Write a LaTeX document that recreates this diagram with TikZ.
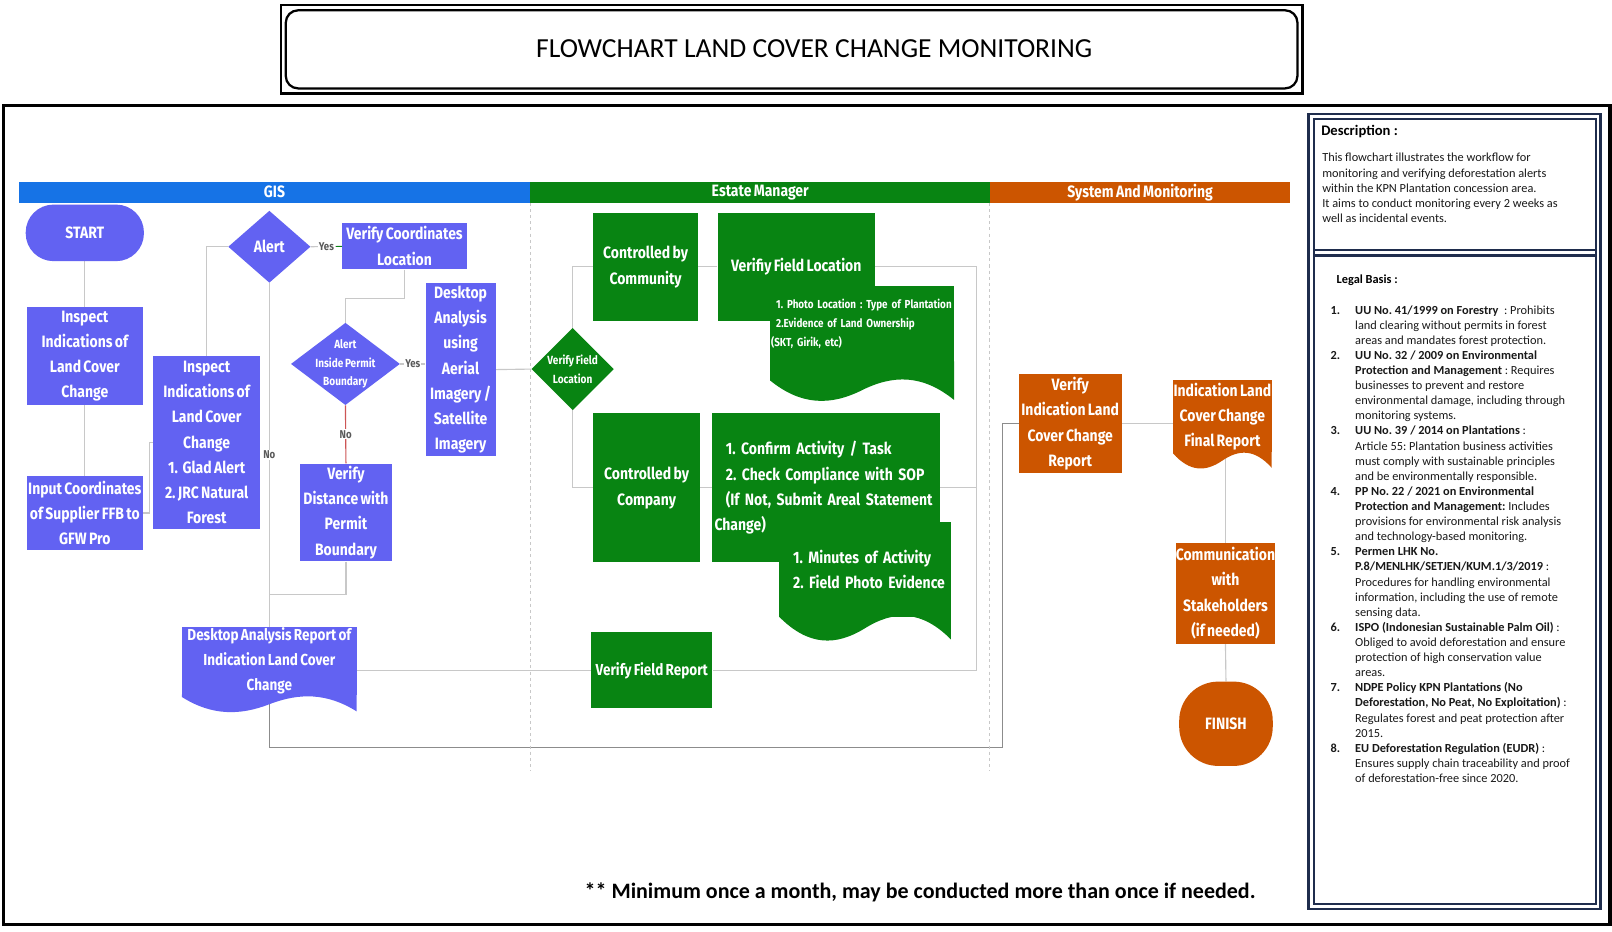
\documentclass[tikz,border=0pt]{standalone}
\usepackage{fontspec}
\setmainfont{Carlito}
\newfontfamily\nf[FakeStretch=0.85,WordSpace=0.7]{Fira Sans}
\frenchspacing
\usetikzlibrary{shapes.geometric,calc,backgrounds}
\definecolor{gisblue}{RGB}{22,115,230}
\definecolor{emgreen}{RGB}{8,132,18}
\definecolor{smorange}{RGB}{204,85,0}
\definecolor{pbox}{RGB}{98,98,242}
\definecolor{lineg}{RGB}{200,200,200}
\definecolor{loopg}{RGB}{140,140,140}
\definecolor{navy}{RGB}{31,45,77}
\definecolor{nored}{RGB}{205,85,85}
\newcommand\docwave[6]{%
  \fill[#1] (#2,#4) -- (#2,#5)
    .. controls ({#2+0.17*(#3-#2)},{#6+0.3*(#6-#5)}) and ({#2+0.33*(#3-#2)},{#6+0.3*(#6-#5)}) .. ({#2+0.5*(#3-#2)},{#6-0.5*(#6-#5)})
    .. controls ({#2+0.67*(#3-#2)},{#6-1.3*(#6-#5)}) and ({#2+0.83*(#3-#2)},{#6-1.3*(#6-#5)}) .. (#3,#6)
    -- (#3,#4) -- cycle;}
\tikzset{
  fbox/.style={rectangle, inner sep=0pt, text=white, align=center, font=\nf\bfseries\frenchspacing\fontsize{16}{24.5}\selectfont},
  pur/.style={fbox, fill=pbox},
  grn/.style={fbox, fill=emgreen},
  org/.style={fbox, fill=smorange},
  smalltxt/.style={font=\nf\bfseries\frenchspacing\fontsize{11.5}{18}\selectfont},
  conn/.style={draw=lineg, line width=1.1pt},
  loopline/.style={draw=loopg, line width=1.4pt},
  lane/.style={rectangle, inner sep=0pt, minimum height=20, text=white, font=\nf\bfseries\fontsize{16}{16}\selectfont},
  lbl/.style={font=\nf\bfseries\fontsize{11}{11}\selectfont, text=black!65, fill=white, inner sep=1pt},
  divider/.style={draw=lineg, dashed, line width=0.8pt},
}
\begin{document}
\begin{tikzpicture}[x=1pt,y=-1pt]
\useasboundingbox (0,0) rectangle (1568,906);
% title
\draw[line width=2.2pt] (273,5) rectangle (1267,91);
\node[draw, line width=2.2pt, rounded corners=12, minimum width=984, minimum height=76, inner sep=0pt] (titlebox) at (770,48) {};
\node[font=\fontsize{26.8}{27}\selectfont, inner sep=0pt] (title) at (792,47) {FLOWCHART LAND COVER CHANGE MONITORING};
% main frame
\draw[line width=3pt] (3,103) rectangle (1566,899);
% lanes
\node[lane, fill=gisblue, minimum width=498] (lgis) at (267,187) {GIS};
\node[lane, fill=emgreen, minimum width=447] (lem) at (739.5,187) {Estate Manager};
\node[lane, fill=smorange, minimum width=292] (lsm) at (1109,187) {System And Monitoring};
\draw[divider] (lem.south west) -- ++(0,553);
\draw[divider] (lsm.south west) -- ++(0,553);
% GIS nodes
\node[pur, rounded corners=27, minimum width=115, minimum height=55] (start) at (82.5,226.5) {START};
\node[pur, minimum width=113, minimum height=95] (insp1) at (82.5,346.5) {Inspect\\Indications of\\Land Cover\\Change};
\node[pur, minimum width=113, minimum height=72] (input) at (82.5,499) {Input Coordinates\\of Supplier FFB to\\GFW Pro};
\node[pur, minimum width=104, minimum height=169] (insp2) at (201,430.5) {Inspect\\Indications of\\Land Cover\\Change\\1.\ \ Glad Alert\\2. JRC Natural\\Forest};
\node[pur, diamond, inner sep=-4pt, minimum width=80, minimum height=70] (alert) at (262,240) {Alert};
\node[pur, minimum width=121, minimum height=45, font=\nf\bfseries\fontsize{16}{25}\selectfont] (vcoord) at (393.5,239.5) {Verify Coordinates\\Location};
\node[pur, diamond, smalltxt, inner xsep=-10pt, inner ysep=-14pt, minimum width=106, minimum height=80] (aipb) at (336,354) {Alert\\Inside Permit\\Boundary};
\node[pur, minimum width=89, minimum height=95] (vdist) at (336.5,498.5) {Verify\\Distance with\\Permit\\Boundary};
\node[pur, minimum width=68, minimum height=169, font=\nf\bfseries\fontsize{16}{24.6}\selectfont] (desk) at (448,359.5) {Desktop\\Analysis\\using\\Aerial\\Imagery /\\Satellite\\Imagery};
\node[pur, minimum width=170, minimum height=66, font=\nf\bfseries\fontsize{15.5}{24.5}\selectfont] (report) at (262,643) {Desktop Analysis Report of\\Indication Land Cover\\Change};
\docwave{pbox}{177}{347}{675.5}{678}{692}
% Estate manager nodes
\node[grn, diamond, smalltxt, inner sep=-6pt, minimum width=80, minimum height=80] (vfl) at (557,359) {Verify Field\\Location};
\node[grn, minimum width=102, minimum height=105, font=\nf\bfseries\fontsize{16}{25}\selectfont] (ccomm) at (628,259.5) {Controlled by\\Community};
\node[grn, minimum width=153, minimum height=105] (vfloc) at (774.5,259.5) {Verifiy Field Location};
\node[grn, minimum width=179, minimum height=74, text width=177, align=left, font=\nf\bfseries\frenchspacing\fontsize{11.3}{18.5}\selectfont] (doc1) at (838.5,315) {\hspace*{5pt}1. Photo Location : Type of Plantation\\\hspace*{5pt}2.Evidence of Land Ownership\\(SKT, Girik, etc)};
\docwave{emgreen}{749}{928}{351.5}{370}{389}
\node[grn, minimum width=104, minimum height=145, font=\nf\bfseries\fontsize{16}{25}\selectfont] (ccomp) at (629,474.5) {Controlled by\\Company};
\node[grn, minimum width=221, minimum height=145, text width=217, align=left] (confirm) at (803.5,474.5) {\hspace*{11pt}1. Confirm Activity / Task\\\hspace*{11pt}2. Check Compliance with SOP\\\hspace*{11pt}(If Not, Submit Areal Statement\\Change)};
\node[grn, minimum width=167, minimum height=92, text width=162, align=left] (doc2) at (841.5,554) {\hspace*{11pt}1. Minutes of Activity\\\hspace*{11pt}2. Field Photo Evidence};
\docwave{emgreen}{758}{925}{599.5}{600}{622}
\node[grn, minimum width=118, minimum height=74, font=\nf\bfseries\fontsize{15.5}{24}\selectfont] (vfr) at (634,652) {Verify Field Report};
% System nodes
\node[org, minimum width=100, minimum height=96] (vind) at (1041,412) {Verify\\Indication Land\\Cover Change\\Report};
\node[org, minimum width=96, minimum height=70] (final) at (1189,405) {Indication Land\\Cover Change\\Final Report};
\docwave{smorange}{1141}{1237}{439.5}{441}{455}
\node[org, minimum width=92, minimum height=98] (comm) at (1192,577) {Communication\\with\\Stakeholders\\(if needed)};
\node[org, rounded corners=38, minimum width=91, minimum height=82] (finish) at (1192.5,704) {FINISH};
% coordinates
\coordinate (jn) at (262,578);
\coordinate (rx) at (950,0);
\coordinate (lp) at (975,727);
% connectors
\begin{scope}[on background layer]
\fill[white] (0,0) rectangle (1568,906);
\draw[conn] (start.south) -- (insp1.north);
\draw[conn] (insp1.south) -- (input.north);
\draw[conn] (input.east) -- ++(6,0) |- (insp2.west);
\draw[conn] (insp2.north) |- (alert.west);
\draw[conn] (alert.east) -- node[lbl]{Yes} (vcoord.west);
\draw[draw=emgreen, line width=1.1pt] ($(vcoord.west)+(-6,0)$) -- (vcoord.west);
\draw[conn] (vcoord.south) -- ++(0,28) -| (aipb.north);
\draw[conn] (aipb.east) -- node[lbl]{Yes} (aipb.east -| desk.west);
\draw[conn, draw=nored] (aipb.south) -- node[lbl]{No} (vdist.north);
\draw[conn] (alert.south) -- node[lbl, pos=0.5]{No} (report.north);
\draw[conn] (vdist.south) |- (jn);
\draw[conn] (desk.east) -- (vfl.west);
\draw[conn] (vfl.north) |- (ccomm.west);
\draw[conn] (vfl.south) |- (ccomp.west);
\draw[conn] (ccomm.east) -- (vfloc.west);
\draw[conn] (ccomp.east) -- (confirm.west);
\draw[conn] (vfloc.east) -- (vfloc.east -| rx) -- (rx |- vfr.east) -- (vfr.east);
\draw[conn] (confirm.east) -- (confirm.east -| rx);
\draw[conn] (vfr.west) -- (vfr.west -| report.east);
\draw[loopline] (report.south) |- (lp) |- (vind.west);
\draw[conn] (vind.east) -- (vind.east -| final.west);
\draw[conn] (comm.north) -- (comm.north |- final.south);
\draw[conn] (comm.south) -- (finish.north);
\end{scope}
% description panel
\draw[navy, line width=2.5pt] (1273,111) rectangle (1557,884);
\draw[navy, line width=2pt] (1278,116) rectangle (1552,879);
\draw[navy, line width=2pt] (1278,243.5) -- (1552,243.5);
\draw[navy, line width=2pt] (1278,248.5) -- (1552,248.5);
\node[anchor=west, inner sep=0pt, font=\bfseries\fontsize{14.2}{16}\selectfont] (dtitle) at (1285,128) {Description :};
\node[anchor=north west, inner sep=0pt, align=left, text=black!90, font=\fontsize{12}{14.7}\selectfont] (dbody) at (1286,149) {This flowchart illustrates the workflow for\\monitoring and verifying deforestation alerts\\within the KPN Plantation concession area.\\It aims to conduct monitoring every 2 weeks as\\well as incidental events.};
\node[anchor=west, inner sep=0pt, font=\bfseries\fontsize{12}{12}\selectfont] (lbt) at (1300,273) {Legal Basis :};
\node[anchor=north west, inner sep=0pt, text=black!90, font=\fontsize{12}{14.7}\selectfont] (legal) at (1294,295) {%
\begin{tabular}{@{}p{24pt}@{}l@{}}
\textbf{1.} & \textbf{UU No. 41/1999 on Forestry}\ \ : Prohibits\\
 & land clearing without permits in forest\\
 & areas and mandates forest protection.\\
\textbf{2.} & \textbf{UU No. 32 / 2009 on Environmental}\\
 & \textbf{Protection and Management} : Requires\\
 & businesses to prevent and restore\\
 & environmental damage, including through\\
 & monitoring systems.\\
\textbf{3.} & \textbf{UU No. 39 / 2014 on Plantations} :\\
 & Article 55: Plantation business activities\\
 & must comply with sustainable principles\\
 & and be environmentally responsible.\\
\textbf{4.} & \textbf{PP No. 22 / 2021 on Environmental}\\
 & \textbf{Protection and Management:} Includes\\
 & provisions for environmental risk analysis\\
 & and technology-based monitoring.\\
\textbf{5.} & \textbf{Permen LHK No.}\\
 & \textbf{P.8/MENLHK/SETJEN/KUM.1/3/2019} :\\
 & Procedures for handling environmental\\
 & information, including the use of remote\\
 & sensing data.\\
\textbf{6.} & \textbf{ISPO (Indonesian Sustainable Palm Oil)} :\\
 & Obliged to avoid deforestation and ensure\\
 & protection of high conservation value\\
 & areas.\\
\textbf{7.} & \textbf{NDPE Policy KPN Plantations (No}\\
 & \textbf{Deforestation, No Peat, No Exploitation)} :\\
 & Regulates forest and peat protection after\\
 & 2015.\\
\textbf{8.} & \textbf{EU Deforestation Regulation (EUDR)} :\\
 & Ensures supply chain traceability and proof\\
 & of deforestation-free since 2020.
\end{tabular}};
\node[inner sep=0pt, font=\bfseries\fontsize{21.4}{22}\selectfont] (note) at (895,868) {** Minimum once a month, may be conducted more than once if needed.};
\end{tikzpicture}
\end{document}
